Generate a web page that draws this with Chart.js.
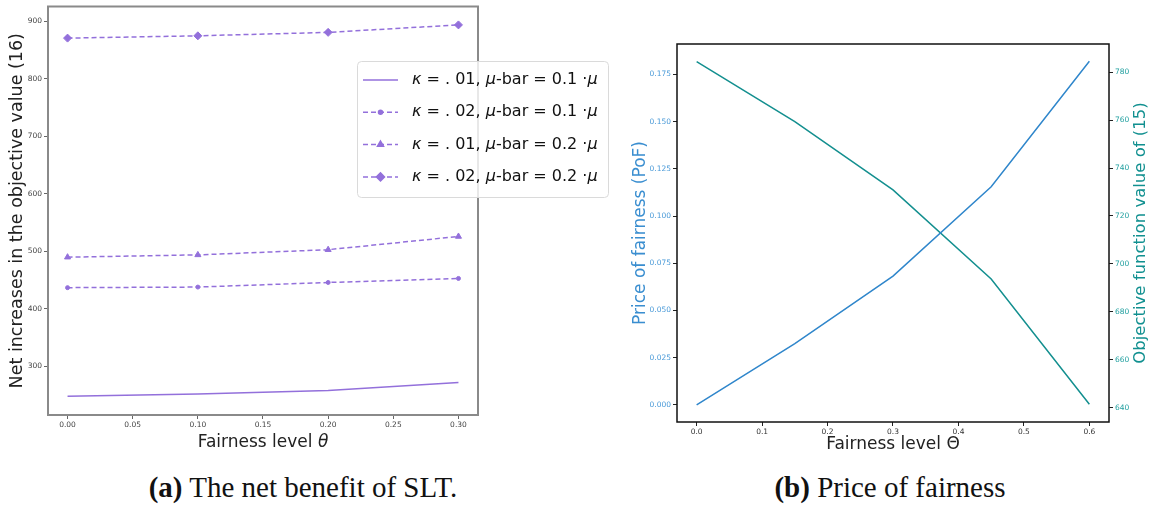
<!DOCTYPE html>
<html>
<head>
<meta charset="utf-8">
<script src="https://cdn.jsdelivr.net/npm/chart.js@4.4.1/dist/chart.umd.min.js"></script>
<style>
  body { margin: 0; background: #fff; width: 1153px; height: 509px; overflow: hidden; position: relative; }
  .box { position: absolute; top: 0; height: 460px; }
  .cap { position: absolute; top: 470px; text-align: center; font-family: "Liberation Serif", serif; font-size: 29px; line-height: 34px; color: #111; white-space: nowrap; }
</style>
</head>
<body>
<div class="box" style="left:0;width:620px"><canvas id="netBenefit"></canvas></div>
<div class="box" style="left:620px;width:533px"><canvas id="priceFair"></canvas></div>
<div class="cap" style="left:0;width:606px"><b>(a)</b> The net benefit of SLT.</div>
<div class="cap" style="left:630px;width:520px"><b>(b)</b> Price of fairness</div>

<script>
// (a) net increase of the objective value per fairness level
const thetaA = [0, 0.1, 0.2, 0.3];
const k01mu01 = [248, 252, 258, 272];
const k02mu01 = [437, 438, 446, 453];
const k01mu02 = [490, 494, 503, 526];
const k02mu02 = [871, 875, 881, 894];
const seriesLabelsA = [
  'κ = . 01, μ-bar = 0.1 ·μ',
  'κ = . 02, μ-bar = 0.1 ·μ',
  'κ = . 01, μ-bar = 0.2 ·μ',
  'κ = . 02, μ-bar = 0.2 ·μ'
];
const xTicksA = [0, 0.05, 0.10, 0.15, 0.20, 0.25, 0.30];
const yTicksA = [300, 400, 500, 600, 700, 800, 900];

// (b) price of fairness and objective (15)
const thetaB = [0, 0.15, 0.3, 0.45, 0.6];
const pof = [0, 0.0324, 0.0682, 0.1155, 0.182];
const objective = [784.4, 759.4, 730.9, 693.7, 641.4];
const xTicksB = [0, 0.1, 0.2, 0.3, 0.4, 0.5, 0.6];
const pofTicks = [0, 0.025, 0.05, 0.075, 0.1, 0.125, 0.15, 0.175];
const objTicks = [640, 660, 680, 700, 720, 740, 760, 780];

const FONT = 'DejaVu Sans';
const purple = '#9370db';

function pts(xs, ys) { return xs.map((x, i) => ({x: x, y: ys[i]})); }
function fixTicks(list) { return s => { s.ticks = list.map(v => ({value: v})); }; }

// text with italic greek letters, like matplotlib mathtext
function drawMixed(ctx, text, x, y, size, align) {
  const parts = text.split(/([κμθ])/).filter(p => p.length);
  const fontOf = p => (/[κμθ]/.test(p) ? 'italic ' : '') + size + 'px "' + FONT + '"';
  let total = 0;
  parts.forEach(p => { ctx.font = fontOf(p); total += ctx.measureText(p).width; });
  let cx = align === 'center' ? x - total / 2 : x;
  ctx.textAlign = 'left';
  ctx.textBaseline = 'middle';
  parts.forEach(p => { ctx.font = fontOf(p); ctx.fillText(p, cx, y); cx += ctx.measureText(p).width; });
}

function framePlugin(color, width) {
  return {
    id: 'frame',
    afterDraw(chart) {
      const {left, top, right, bottom} = chart.chartArea;
      const ctx = chart.ctx;
      ctx.save();
      ctx.strokeStyle = color;
      ctx.lineWidth = width;
      ctx.strokeRect(left, top, right - left, bottom - top);
      ctx.restore();
    }
  };
}

const legendA = {
  id: 'legendA',
  afterDraw(chart) {
    const ctx = chart.ctx;
    const x = 357, y = 61, w = 251, h = 136;
    ctx.save();
    ctx.fillStyle = 'rgba(255,255,255,0.8)';
    ctx.strokeStyle = '#dadada';
    ctx.lineWidth = 1;
    ctx.beginPath();
    ctx.roundRect(x + 0.5, y + 0.5, w, h, 4);
    ctx.fill();
    ctx.stroke();
    chart.data.datasets.forEach((ds, i) => {
      const cy = y + 19 + i * 32.3;
      ctx.strokeStyle = ds.borderColor;
      ctx.lineWidth = ds.borderWidth;
      ctx.setLineDash(ds.borderDash || []);
      ctx.beginPath();
      ctx.moveTo(x + 6, cy);
      ctx.lineTo(x + 41, cy);
      ctx.stroke();
      ctx.setLineDash([]);
      if (ds.pointRadius) {
        ctx.fillStyle = ds.backgroundColor;
        Chart.helpers.drawPoint(ctx, {pointStyle: ds.pointStyle, radius: ds.pointRadius, borderWidth: 1, rotation: 0}, x + 23.5, cy);
      }
      ctx.fillStyle = '#111';
      drawMixed(ctx, ds.label, x + 55, cy, 16, 'left');
    });
    ctx.restore();
  }
};

const xTitleA = {
  id: 'xTitleA',
  afterDraw(chart) {
    const ctx = chart.ctx;
    const a = chart.chartArea;
    ctx.save();
    ctx.fillStyle = '#222';
    drawMixed(ctx, 'Fairness level θ', (a.left + a.right) / 2, 443, 17, 'center');
    ctx.restore();
  }
};

// right axis label reads bottom to top, same as the left one
const rightTitleB = {
  id: 'rightTitleB',
  afterDraw(chart) {
    const ctx = chart.ctx;
    const a = chart.chartArea;
    ctx.save();
    ctx.translate(chart.width - 12, (a.top + a.bottom) / 2);
    ctx.rotate(-Math.PI / 2);
    ctx.fillStyle = '#119090';
    ctx.font = '16.5px "' + FONT + '"';
    ctx.textAlign = 'center';
    ctx.textBaseline = 'middle';
    ctx.fillText('Objective function value of (15)', 0, 0);
    ctx.restore();
  }
};

const dashed = [5, 3];
function lineSet(label, ys, style, radius, dash) {
  return {
    label: label,
    data: pts(thetaA, ys),
    borderColor: purple,
    backgroundColor: purple,
    borderWidth: 1.5,
    borderDash: dash,
    pointStyle: style,
    pointRadius: radius,
    pointBorderWidth: 1,
    tension: 0
  };
}

new Chart(document.getElementById('netBenefit'), {
  type: 'line',
  data: {
    datasets: [
      lineSet(seriesLabelsA[0], k01mu01, 'circle', 0, []),
      lineSet(seriesLabelsA[1], k02mu01, 'circle', 2, dashed),
      lineSet(seriesLabelsA[2], k01mu02, 'triangle', 3.5, dashed),
      lineSet(seriesLabelsA[3], k02mu02, 'rectRot', 4, dashed)
    ]
  },
  options: {
    responsive: true,
    maintainAspectRatio: false,
    animation: false,
    layout: { padding: { top: 3, right: 142, left: 0, bottom: 0 } },
    plugins: { legend: { display: false }, tooltip: { enabled: false } },
    scales: {
      x: {
        type: 'linear',
        min: -0.015, max: 0.315,
        afterBuildTicks: fixTicks(xTicksA),
        afterFit: s => { s.height = 45; },
        grid: { drawOnChartArea: false, drawTicks: true, tickLength: 4, color: '#666' },
        border: { display: false },
        ticks: { font: { family: FONT, size: 7.5 }, color: '#444', padding: 2, maxRotation: 0,
                 callback: v => v.toFixed(2) }
      },
      y: {
        min: 215.5, max: 926,
        afterBuildTicks: fixTicks(yTicksA),
        afterFit: s => { s.width = 48; },
        grid: { drawOnChartArea: false, drawTicks: true, tickLength: 4, color: '#666' },
        border: { display: false },
        ticks: { font: { family: FONT, size: 7.5 }, color: '#444', padding: 2 },
        title: { display: true, text: 'Net increases in the objective value (16)', color: '#222',
                 font: { family: FONT, size: 17.5 }, padding: { top: 7 } }
      }
    }
  },
  plugins: [framePlugin('#8a8a8a', 2), legendA, xTitleA]
});

const blue = '#2f86cb';
const teal = '#138f8f';

new Chart(document.getElementById('priceFair'), {
  type: 'line',
  data: {
    datasets: [
      { label: 'PoF', data: pts(thetaB, pof), yAxisID: 'y', borderColor: blue, borderWidth: 1.5, pointRadius: 0, tension: 0 },
      { label: 'Objective (15)', data: pts(thetaB, objective), yAxisID: 'y1', borderColor: teal, borderWidth: 1.5, pointRadius: 0, tension: 0 }
    ]
  },
  options: {
    responsive: true,
    maintainAspectRatio: false,
    animation: false,
    layout: { padding: { top: 44, right: 0, left: 0, bottom: 0 } },
    plugins: { legend: { display: false }, tooltip: { enabled: false } },
    scales: {
      x: {
        type: 'linear',
        min: -0.03, max: 0.63,
        afterBuildTicks: fixTicks(xTicksB),
        afterFit: s => { s.height = 38; },
        grid: { drawOnChartArea: false, drawTicks: true, tickLength: 4, color: '#222' },
        border: { display: false },
        ticks: { font: { family: FONT, size: 7.5 }, color: '#333', padding: 2, maxRotation: 0,
                 callback: v => v.toFixed(1) },
        title: { display: true, text: 'Fairness level Θ', color: '#222',
                 font: { family: FONT, size: 17 }, padding: { top: 0, bottom: 5 } }
      },
      y: {
        position: 'left',
        min: -0.0091, max: 0.1911,
        afterBuildTicks: fixTicks(pofTicks),
        afterFit: s => { s.width = 57; },
        grid: { drawOnChartArea: false, drawTicks: true, tickLength: 4, color: '#222' },
        border: { display: false },
        ticks: { font: { family: FONT, size: 7.5 }, color: '#4a9ad8', padding: 2,
                 callback: v => v.toFixed(3) },
        title: { display: true, text: 'Price of fairness (PoF)', color: '#3a8ed0',
                 font: { family: FONT, size: 17 }, padding: { top: 10 } }
      },
      y1: {
        position: 'right',
        min: 634, max: 791.8,
        afterBuildTicks: fixTicks(objTicks),
        afterFit: s => { s.width = 44; },
        grid: { drawOnChartArea: false, drawTicks: true, tickLength: 4, color: '#222' },
        border: { display: false },
        ticks: { font: { family: FONT, size: 7.5 }, color: '#22a0a0', padding: 2 }
      }
    }
  },
  plugins: [framePlugin('#111', 1.5), rightTitleB]
});
</script>
</body>
</html>
